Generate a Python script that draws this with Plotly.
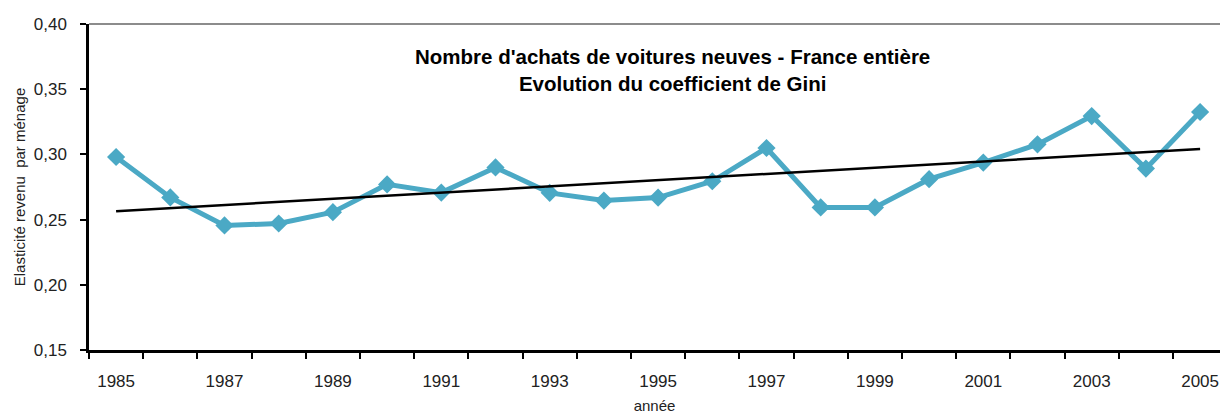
import plotly.graph_objects as go

years = list(range(1985, 2006))
gini = [0.298, 0.267, 0.2455, 0.247, 0.2557, 0.277, 0.2707, 0.290, 0.2705, 0.2646,
        0.2669, 0.2794, 0.3049, 0.2593, 0.2593, 0.281, 0.2937, 0.3077, 0.3294, 0.2891, 0.3325]
trend_years = [1985, 2005]
trend_values = [0.2564, 0.3041]
label_years = list(range(1985, 2006, 2))
boundary_ticks = [y - 0.5 for y in range(1985, 2007)]

title_text = "Nombre d'achats de voitures neuves - France entière<br>Evolution du coefficient de Gini"
font_family = "Liberation Sans, Arial, sans-serif"
line_color = "#4BA9C5"

fig = go.Figure()
fig.add_trace(go.Scatter(
    x=years, y=gini, mode="lines+markers",
    line=dict(color=line_color, width=5),
    marker=dict(symbol="diamond", size=14, color=line_color),
    showlegend=False, hoverinfo="x+y",
))
fig.add_trace(go.Scatter(
    x=trend_years, y=trend_values, mode="lines",
    line=dict(color="black", width=2.5),
    showlegend=False,
))

fig.update_layout(
    width=1220, height=416,
    margin=dict(l=89, r=0, t=24, b=66),
    paper_bgcolor="white", plot_bgcolor="white",
    separators=", ",
    font=dict(family=font_family, color="#222222"),
    annotations=[dict(
        text="<b>" + title_text + "</b>",
        x=(672 - 89) / 1131, y=1 - (70 - 24) / 326, xref="x domain", yref="y domain",
        xanchor="center", yanchor="middle",
        showarrow=False, font=dict(size=20.5, color="black"), align="center",
    )],
    shapes=[dict(type="line", xref="paper", yref="paper", x0=0, x1=1, y0=1, y1=1,
                 line=dict(color="#8c8c8c", width=2))],
)

fig.update_xaxes(
    automargin=False,
    range=[1984.5, 1984.5 + 1131 / 54.2],
    tickmode="array", tickvals=label_years, ticktext=[str(y) for y in label_years],
    ticks="", showgrid=False, zeroline=False,
    showline=True, linecolor="black", linewidth=2.5,
    tickfont=dict(size=17, color="#222222"),
    ticklabelstandoff=14,
    minor=dict(tickmode="array", tickvals=boundary_ticks, ticks="outside", ticklen=6,
               tickwidth=2, tickcolor="black", showgrid=False),
    title=dict(text="année", font=dict(size=15, color="#222222"), standoff=11),
)
fig.update_yaxes(
    automargin=False,
    range=[0.15, 0.40], tickmode="linear", tick0=0.15, dtick=0.05, tickformat=".2f",
    ticks="outside", ticklen=6, tickwidth=2, tickcolor="black",
    showgrid=False, zeroline=False,
    showline=True, linecolor="black", linewidth=2.5,
    tickfont=dict(size=17, color="#222222"),
    ticklabelstandoff=10,
    title=dict(text="Elasticité revenu  par ménage", font=dict(size=15, color="#222222"), standoff=5),
)

fig.write_html("out.html", config={"displayModeBar": False},
               post_script="document.body.style.margin='0';")
